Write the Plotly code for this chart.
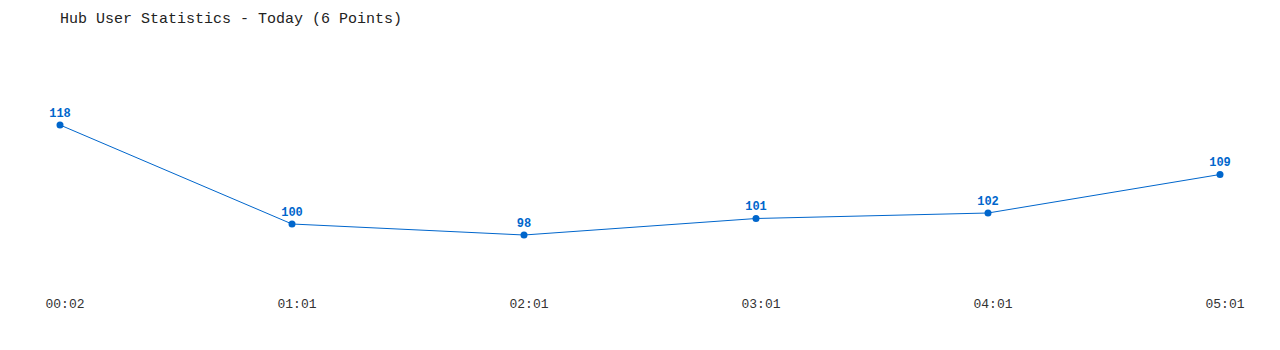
import plotly.graph_objects as go

times = ["00:02", "01:01", "02:01", "03:01", "04:01", "05:01"]
users = [118, 100, 98, 101, 102, 109]
title_text = "Hub User Statistics - Today (6 Points)"

xidx = list(range(len(times)))
color = "#0066cc"
font = "Liberation Mono, DejaVu Sans Mono, monospace"

fig = go.Figure(go.Scatter(
    x=xidx, y=users, mode="lines+markers+text",
    text=[str(v) for v in users], textposition="top center",
    textfont=dict(family=font, size=12, color=color, weight="bold"),
    line=dict(color=color, width=1),
    marker=dict(color=color, size=7),
    cliponaxis=False, hoverinfo="skip",
))

fig.update_layout(
    width=1280, height=350,
    margin=dict(l=60, r=60, t=40, b=70),
    paper_bgcolor="white", plot_bgcolor="white",
    showlegend=False,
    title=dict(text=title_text, x=60/1280, xanchor="left", y=1-18/350, yanchor="middle",
               font=dict(family=font, size=15, color="#222222")),
    xaxis=dict(range=[0, 5], tickvals=xidx, ticktext=times, showgrid=False, zeroline=False,
               showline=False, ticks="outside", ticklen=11, tickcolor="rgba(0,0,0,0)",
               ticklabelshift=5,
               tickfont=dict(family=font, size=13, color="#333333")),
    yaxis=dict(range=[89.82, 133.45], visible=False, showgrid=False, zeroline=False),
)

fig.write_html("out.html")
